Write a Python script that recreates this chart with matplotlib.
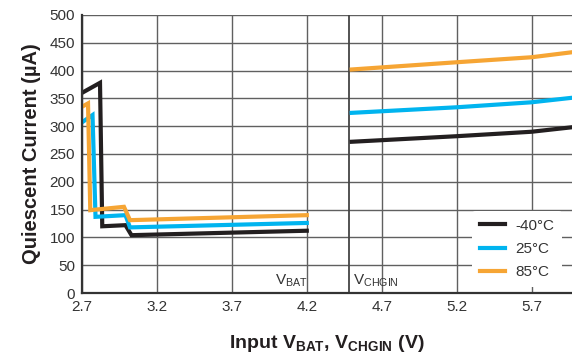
import matplotlib
matplotlib.use("Agg")
import matplotlib.pyplot as plt

plt.rcParams['font.family'] = ['Liberation Sans', 'DejaVu Sans']
plt.rcParams['mathtext.fontset'] = 'custom'
plt.rcParams['mathtext.rm'] = 'Liberation Sans'
plt.rcParams['mathtext.bf'] = 'Liberation Sans:bold'
plt.rcParams['mathtext.it'] = 'Liberation Sans:italic'

# VBAT region (2.7 - 4.2 V)
vbat_m40 = [2.70, 2.82, 2.835, 2.99, 3.03, 4.20]
iq_m40_bat = [360, 378, 120, 122, 104, 112]
vbat_25 = [2.70, 2.77, 2.79, 2.99, 3.02, 4.20]
iq_25_bat = [307, 320, 137, 140, 118, 126]
vbat_85 = [2.70, 2.74, 2.755, 2.98, 3.02, 4.20]
iq_85_bat = [335, 341, 149, 155, 131, 140]

# VCHGIN region (4.5 - 6.0 V)
vchg = [4.5, 5.2, 5.7, 6.0]
iq_m40_chg = [272, 282, 290, 299]
iq_25_chg = [324, 334, 343, 352]
iq_85_chg = [402, 415, 424, 434]

labels = ['-40°C', '25°C', '85°C']
colors = ['#231f20', '#00b4ef', '#f6a534']

xticks = [2.7, 3.2, 3.7, 4.2, 4.7, 5.2, 5.7]
yticks = list(range(0, 501, 50))

fig = plt.figure(figsize=(5.72, 3.62), dpi=100)
ax = fig.add_axes([0.1434, 0.1906, 0.8566, 0.768])

lw = 3.0
ax.plot(vbat_m40, iq_m40_bat, color=colors[0], lw=lw, label=labels[0], solid_joinstyle='miter')
ax.plot(vbat_25, iq_25_bat, color=colors[1], lw=lw, label=labels[1], solid_joinstyle='miter')
ax.plot(vbat_85, iq_85_bat, color=colors[2], lw=lw, label=labels[2], solid_joinstyle='miter')
ax.plot(vchg, iq_m40_chg, color=colors[0], lw=lw)
ax.plot(vchg, iq_25_chg, color=colors[1], lw=lw)
ax.plot(vchg, iq_85_chg, color=colors[2], lw=lw)

ax.axvline(4.48, color='#444444', lw=1.3, zorder=1)

ax.set_xlim(2.7, 5.97)
ax.set_ylim(0, 500)
ax.set_xticks(xticks)
ax.set_xticklabels([f'{v:.1f}' for v in xticks])
ax.set_yticks(yticks)
ax.grid(True, color='#606060', lw=1.0, zorder=0)
ax.set_axisbelow(True)
ax.tick_params(length=0, labelsize=11, colors='#333333', pad=5)
for s in ['top', 'right']:
    ax.spines[s].set_visible(False)
for s in ['left', 'bottom']:
    ax.spines[s].set_color('#333333')
    ax.spines[s].set_linewidth(1.6)

ax.text(3.99, 8, r'V$_{\mathregular{BAT}}$', fontsize=11, color='#333333', ha='left', va='bottom')
ax.text(4.51, 8, r'V$_{\mathregular{CHGIN}}$', fontsize=11, color='#333333', ha='left', va='bottom')

ax.set_ylabel('Quiescent Current (µA)', fontsize=14.5, fontweight='bold', color='#231f20', labelpad=6)
ax.set_xlabel(r'Input V$_{\mathbf{BAT}}$, V$_{\mathbf{CHGIN}}$ (V)', fontsize=14, fontweight='bold', color='#231f20', labelpad=14)

leg = ax.legend(loc='lower right', bbox_to_anchor=(0.995, -0.005), frameon=True, fontsize=11,
                handlelength=1.6, labelspacing=0.6, borderpad=0.5, handletextpad=0.7)
leg.get_frame().set_facecolor('white')
leg.get_frame().set_edgecolor('none')
leg.get_frame().set_alpha(1)
for t in leg.get_texts():
    t.set_color('#333333')

fig.savefig('out.png', dpi=100)
